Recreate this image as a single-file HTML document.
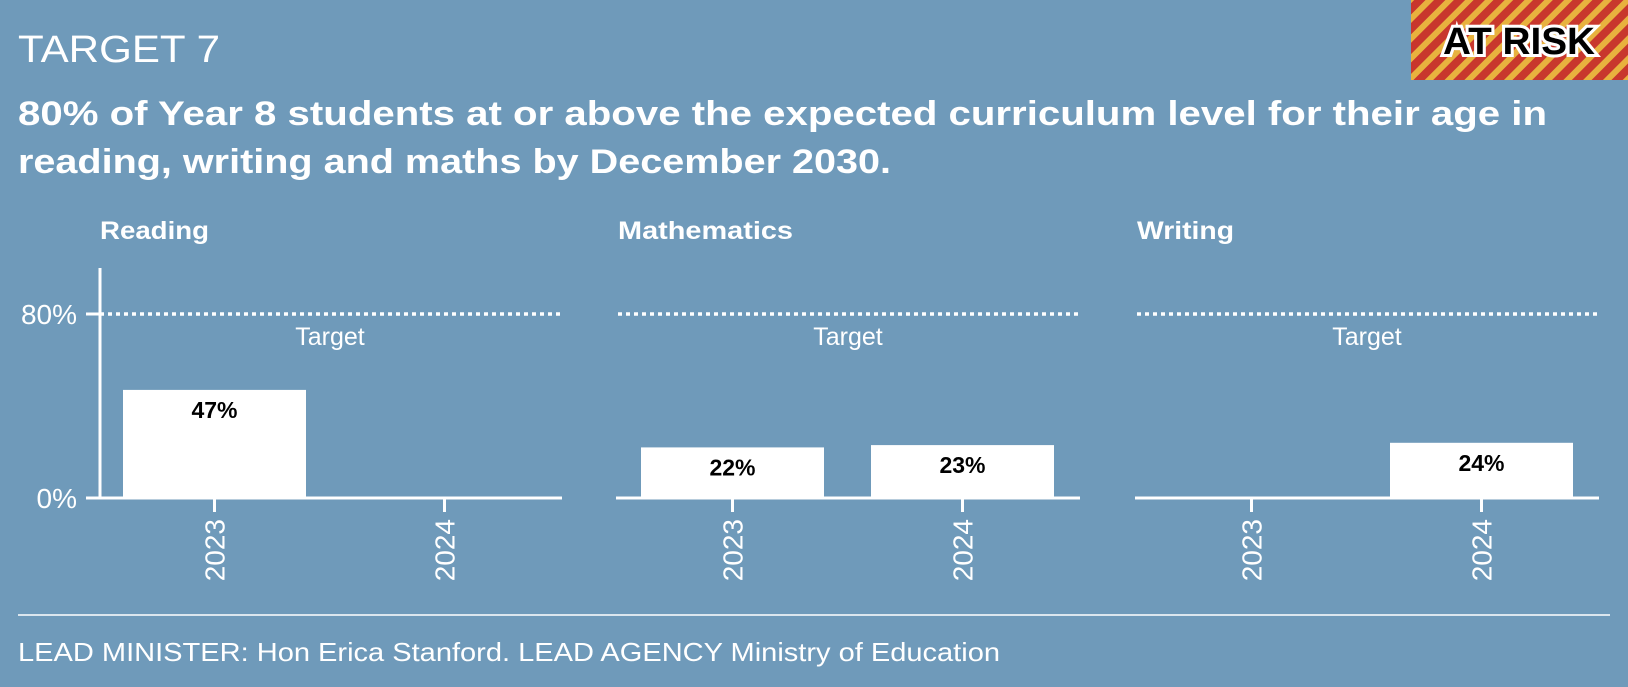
<!DOCTYPE html>
<html><head><meta charset="utf-8"><style>
html,body{margin:0;padding:0;background:#6f9aba;}
body{width:1628px;height:682px;overflow:hidden;position:relative;font-family:"Liberation Sans",sans-serif;color:#fff;}
</style></head><body>
<svg width="1628" height="682" viewBox="0 0 1628 682" xmlns="http://www.w3.org/2000/svg">
<defs>
<pattern id="stripes" patternUnits="userSpaceOnUse" width="14" height="14" patternTransform="rotate(45)">
<rect width="14" height="14" fill="#c8372d"/><rect width="6" height="14" fill="#e8b23e"/>
</pattern>
</defs>
<rect width="1628" height="682" fill="#6f9aba"/>
<g>
<rect x="1411" y="0" width="217" height="80" fill="url(#stripes)"/>
<text x="1519" y="54" text-anchor="middle" font-size="38" font-weight="bold" fill="#000" stroke="#fff" stroke-width="6" paint-order="stroke" textLength="152" lengthAdjust="spacingAndGlyphs" font-family="Liberation Sans, sans-serif">AT RISK</text>
</g>
<text x="18" y="62" font-size="38" fill="#fff" textLength="202" lengthAdjust="spacingAndGlyphs">TARGET 7</text>
<text font-size="34" font-weight="bold" fill="#fff">
<tspan x="18" y="125" textLength="1529" lengthAdjust="spacingAndGlyphs">80% of Year 8 students at or above the expected curriculum level for their age in</tspan>
<tspan x="18" y="173" textLength="873" lengthAdjust="spacingAndGlyphs">reading, writing and maths by December 2030.</tspan></text>
<g id="panels"></g>
<line x1="18" y1="615" x2="1610" y2="615" stroke="#fff" stroke-width="1.5"/>
<text x="18" y="661" font-size="26" fill="#fff" textLength="982" lengthAdjust="spacingAndGlyphs">LEAD MINISTER: Hon Erica Stanford. LEAD AGENCY Ministry of Education</text>
</svg>
<script>
const subjects = ["Reading","Mathematics","Writing"];
const years = ["2023","2024"];
const readingVals = [47, null];
const mathsVals = [22, 23];
const writingVals = [null, 24];
const targetVal = 80;
const yTicks = [0, 80];
const allVals = [readingVals, mathsVals, writingVals];
const titleWidths = [109, 175, 97];

const NS = "http://www.w3.org/2000/svg";
const g = document.getElementById("panels");
const y0 = 498, yScale = 230/100;
const yPos = v => y0 - v*yScale;
const panelLeft = [86, 604, 1123];
const xBand = (p, i) => panelLeft[p] + 37 + i*230;
function mk(tag, attrs, parent){const e=document.createElementNS(NS,tag);for(const k in attrs)e.setAttribute(k,attrs[k]);(parent||g).appendChild(e);return e;}

const ax = mk("line",{x1:100,y1:268,x2:100,y2:y0,stroke:"#fff","stroke-width":3});


yTicks.forEach(t=>{
  const tl = mk("line",{x1:86,y1:yPos(t),x2:100,y2:yPos(t),stroke:"#fff","stroke-width":3});
  
  
  const tx = mk("text",{x:77,y:yPos(t)+10,"text-anchor":"end","font-size":28,fill:"#fff"});
  tx.textContent = t+"%";
  
  
});

subjects.forEach((s,p)=>{
  const L = panelLeft[p];
  const title = mk("text",{x:L+14,y:239,"font-size":25,"font-weight":"bold",fill:"#fff",textLength:titleWidths[p],lengthAdjust:"spacingAndGlyphs"});
  title.textContent = s;
  
  
  const tl = mk("line",{x1:L+14,y1:yPos(targetVal),x2:L+474,y2:yPos(targetVal),stroke:"#fff","stroke-width":3.5,"stroke-dasharray":"4,4"});
  
  
  const tt = mk("text",{x:L+244,y:yPos(targetVal)+31,"text-anchor":"middle","font-size":25,fill:"#fff"});
  tt.textContent = "Target";
  
  
  allVals[p].forEach((v,i)=>{
    const x = xBand(p,i);
    if(v!==null){
      const r = mk("rect",{x:x,y:yPos(v),width:183,height:v*yScale,fill:"#fff"});
      
      
      const lb = mk("text",{x:x+91.5,y:yPos(v)+28,"text-anchor":"middle","font-size":23,"font-weight":"bold",fill:"#000"});
      lb.textContent = v+"%";
      
      
    }
    const tk = mk("line",{x1:x+91.5,y1:y0,x2:x+91.5,y2:512,stroke:"#fff","stroke-width":3});
    
    
    const yl = mk("text",{x:0,y:0,"text-anchor":"end","font-size":28,fill:"#fff",transform:`translate(${x+91.5+10},519) rotate(-90)`});
    yl.textContent = years[i];
    
    
  });
  const base = mk("line",{x1:p===0?86:L+12,y1:y0,x2:L+476,y2:y0,stroke:"#fff","stroke-width":3});
  
  
});
</script>
</body></html>
